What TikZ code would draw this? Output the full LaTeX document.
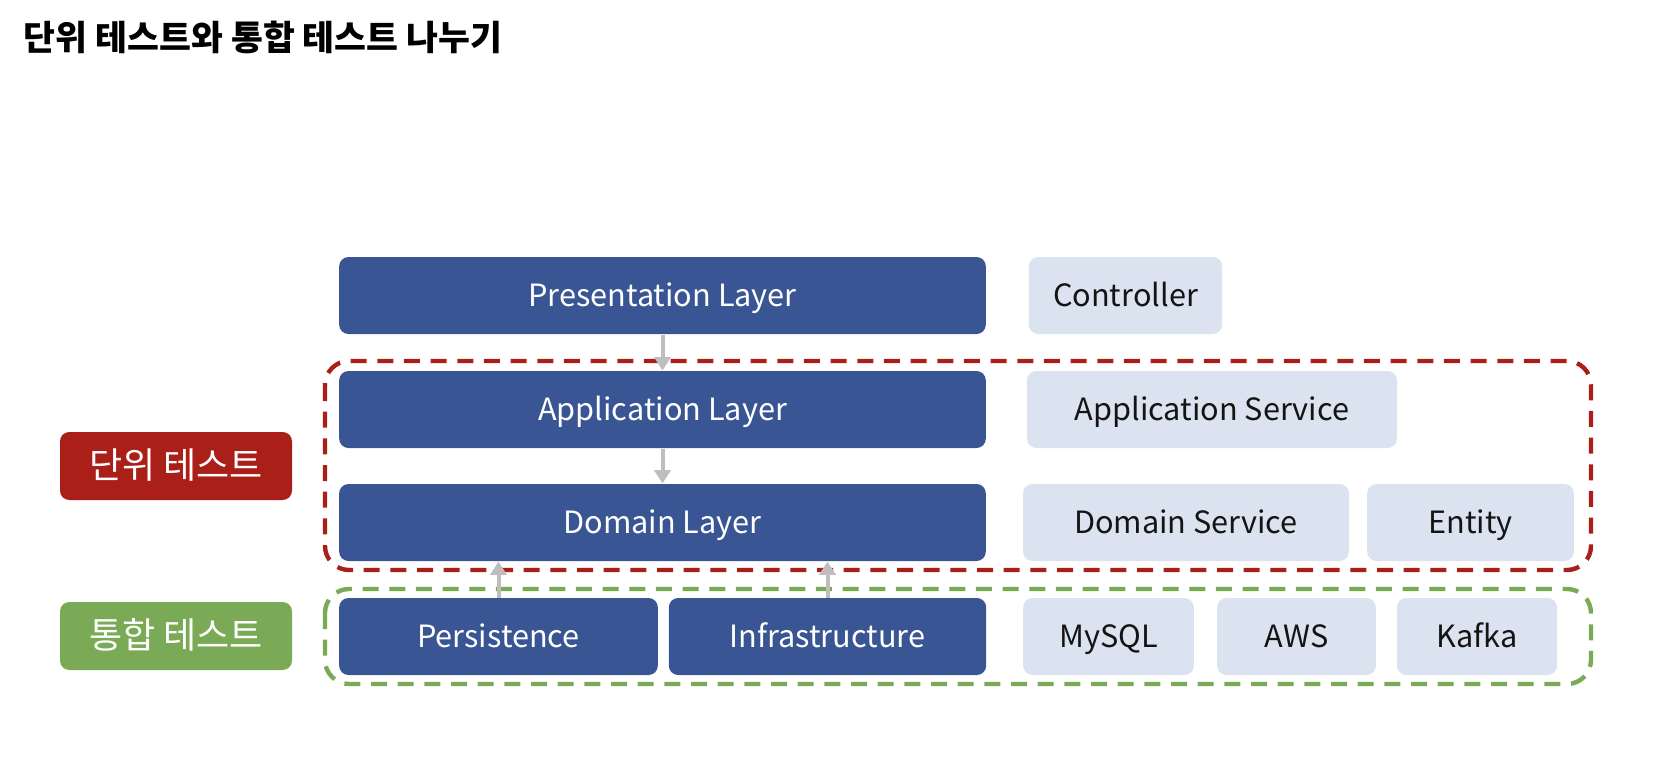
\documentclass[tikz,border=0pt]{standalone}
\usepackage{fontspec}
\setmainfont{Noto Sans CJK KR}
\usetikzlibrary{arrows.meta}

\definecolor{layerblue}{RGB}{58,85,147}
\definecolor{partgray}{RGB}{220,227,240}
\definecolor{unitred}{RGB}{170,32,25}
\definecolor{integgreen}{RGB}{123,170,87}
\definecolor{arrowgray}{RGB}{190,190,190}

\tikzset{every picture/.style={line width=0.75pt}}

\begin{document}
\begin{tikzpicture}[x=0.75pt,y=0.75pt,yscale=-1,xscale=1,
  layerbox/.style={fill=layerblue, rounded corners=7pt, text=white, inner sep=0pt,
    minimum height=57.75pt, text height=18.5pt, text depth=2pt, font=\fontsize{23}{27}\selectfont},
  partbox/.style={fill=partgray, rounded corners=7pt, text=black!92, inner sep=0pt,
    minimum height=57.75pt, text height=18.5pt, text depth=2pt, font=\fontsize{23}{27}\selectfont},
  testtag/.style={rounded corners=7pt, text=white, inner sep=0pt,
    minimum width=174pt, minimum height=51pt, text height=21pt, text depth=3pt,
    font=\fontsize{27}{31}\selectfont},
  zonedash/.style={line width=3.3pt, dash pattern=on 12pt off 8pt, rounded corners=18pt},
  flowarrow/.style={draw=arrowgray, line width=3pt, -{Triangle[length=10pt,width=12pt]}}
]
\useasboundingbox (0,0) rectangle (1672,772);

% title
\node[anchor=west, font=\bfseries\fontsize{26}{30}\selectfont] (title) at (19,37) {단위 테스트와 통합 테스트 나누기};

% dashed zones
\draw[zonedash, draw=unitred] (325,361) rectangle (1591,570);
\draw[zonedash, draw=integgreen] (325,589) rectangle (1591,684);

% test tags
\node[testtag, fill=unitred] (unit) at (176,466) {단위 테스트};
\node[testtag, fill=integgreen] (integ) at (176,636) {통합 테스트};

% layers
\node[layerbox, minimum width=485pt] (pres) at (662.5,295.5) {Presentation Layer};
\node[layerbox, minimum width=485pt] (app) at (662.5,409.5) {Application Layer};
\node[layerbox, minimum width=485pt] (dom) at (662.5,522.5) {Domain Layer};
\node[layerbox, minimum width=239pt] (pers) at (498.5,636.5) {Persistence};
\node[layerbox, minimum width=238pt] (infra) at (827.5,636.5) {Infrastructure};

% parts
\node[partbox, minimum width=145pt] (ctrl) at (1125.5,295.5) {Controller};
\node[partbox, minimum width=277.5pt] (appsvc) at (1212,409.5) {Application Service};
\node[partbox, minimum width=244.5pt] (domsvc) at (1186,522.5) {Domain Service};
\node[partbox, minimum width=155pt] (entity) at (1470.5,522.5) {Entity};
\node[partbox, minimum width=128pt] (mysql) at (1108.5,636.5) {MySQL};
\node[partbox, minimum width=119pt] (aws) at (1296.5,636.5) {AWS};
\node[partbox, minimum width=120pt] (kafka) at (1477,636.5) {Kafka};

% dependencies
\draw[flowarrow] (pres.south) -- (app.north);
\draw[flowarrow] (app.south) -- (dom.north);
\draw[flowarrow] (pers.north) -- (pers.north |- dom.south);
\draw[flowarrow] (infra.north) -- (infra.north |- dom.south);

\end{tikzpicture}
\end{document}
